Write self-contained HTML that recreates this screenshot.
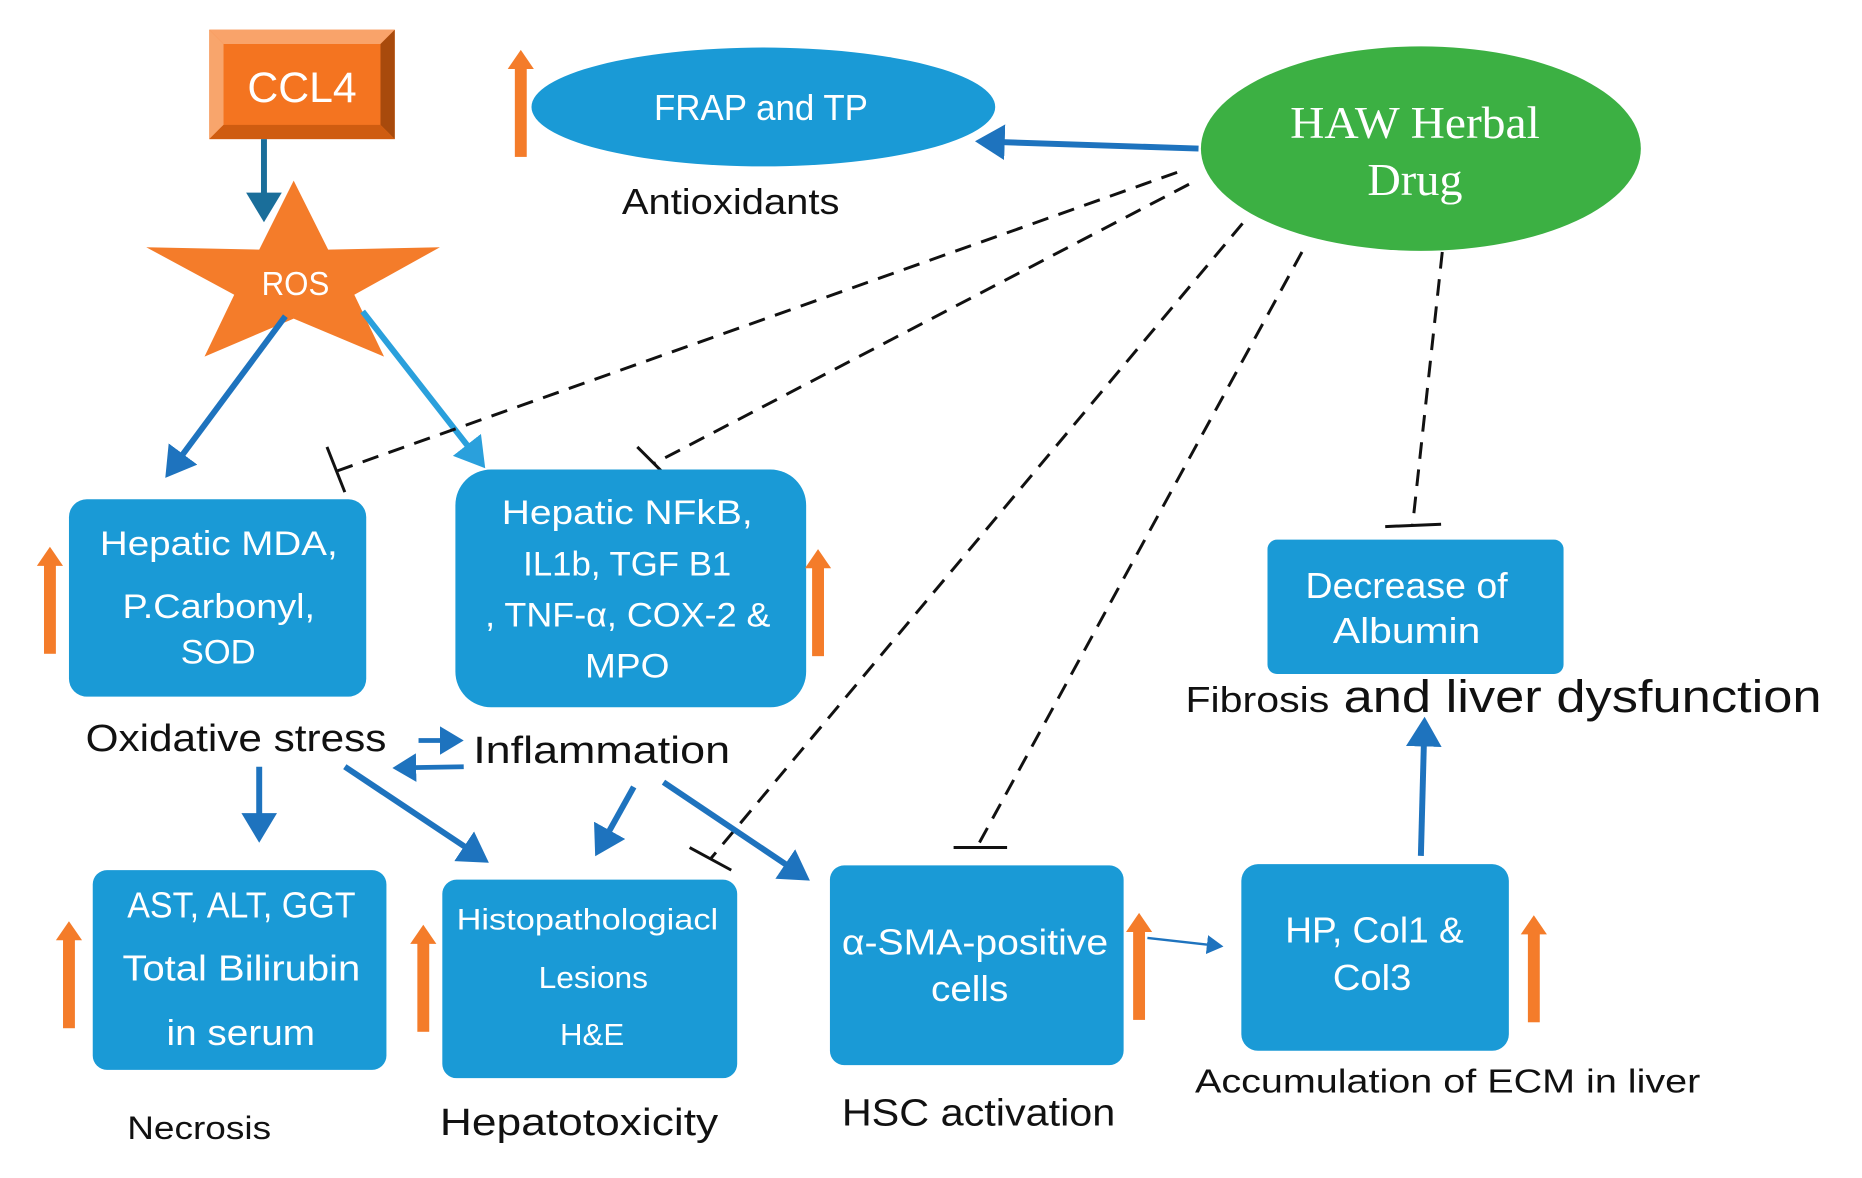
<!DOCTYPE html>
<html><head><meta charset="utf-8"><style>
html,body{margin:0;padding:0;background:#fff;}
svg{display:block;}
text{font-family:"Liberation Sans",sans-serif;}
.w{fill:#fff;}
.k{fill:#111;}
</style></head><body>
<svg width="1862" height="1178" viewBox="0 0 1566 991" preserveAspectRatio="none" xmlns="http://www.w3.org/2000/svg">
<defs>
<marker id="ab" markerWidth="6" markerHeight="6" refX="4" refY="3" orient="auto" markerUnits="strokeWidth"><path d="M0,0 L5,3 L0,6 z" fill="#1e73be"/></marker>
<marker id="al" markerWidth="6" markerHeight="6" refX="4" refY="3" orient="auto" markerUnits="strokeWidth"><path d="M0,0 L5,3 L0,6 z" fill="#2aa0dc"/></marker>
<marker id="at" markerWidth="6" markerHeight="6" refX="4" refY="3" orient="auto" markerUnits="strokeWidth"><path d="M0,0 L5,3 L0,6 z" fill="#1a6e9a"/></marker>
<marker id="an" markerWidth="8" markerHeight="8" refX="6" refY="4" orient="auto" markerUnits="strokeWidth"><path d="M0,0 L7,4 L0,8 z" fill="#1e73be"/></marker>
<g id="up"><rect x="-5" y="14" width="10" height="76" fill="#f47c2a"/><path d="M-11,16 L0,0 L11,16 z" fill="#f47c2a"/></g>
</defs>

<!-- CCL4 -->
<rect x="176" y="25" width="156" height="92" fill="#f47420"/>
<path d="M176,25 L332,25 L320,37 L188,37 z" fill="#f9a36a"/>
<path d="M176,25 L188,37 L188,105 L176,117 z" fill="#f8a56c"/>
<path d="M332,25 L332,117 L320,105 L320,37 z" fill="#a84a0c"/>
<path d="M176,117 L332,117 L320,105 L188,105 z" fill="#cf5c10"/>
<text x="208" y="86" class="w" font-size="36" textLength="92" lengthAdjust="spacingAndGlyphs">CCL4</text>
<line x1="222" y1="117" x2="222" y2="182" stroke="#1a6e9a" stroke-width="5" marker-end="url(#at)"/>

<!-- ROS star -->
<path d="M247,152 L276,210 L370,208 L298,248 L323,300 L247,268 L172,300 L197,248 L123,208 L218,210 z" fill="#f47c2a"/>
<text x="220" y="248" class="w" font-size="28" textLength="57" lengthAdjust="spacingAndGlyphs">ROS</text>

<line x1="240" y1="266" x2="142" y2="398" stroke="#1e73be" stroke-width="5" marker-end="url(#ab)"/>
<line x1="305" y1="262" x2="405" y2="390" stroke="#2aa0dc" stroke-width="5" marker-end="url(#al)"/>

<!-- FRAP -->
<use href="#up" x="438" y="42"/>
<ellipse cx="642" cy="90" rx="195" ry="50" fill="#1a9ad6"/>
<text x="550" y="101" class="w" font-size="30" textLength="180" lengthAdjust="spacingAndGlyphs">FRAP and TP</text>
<text x="523" y="180" class="k" font-size="30" textLength="183" lengthAdjust="spacingAndGlyphs">Antioxidants</text>

<!-- HAW -->
<ellipse cx="1195" cy="125" rx="185" ry="86" fill="#3cb043"/>
<text x="1085" y="116" class="w" font-size="38" style="font-family:'Liberation Serif',serif" textLength="210" lengthAdjust="spacingAndGlyphs">HAW Herbal</text>
<text x="1150" y="164" class="w" font-size="38" style="font-family:'Liberation Serif',serif" textLength="80" lengthAdjust="spacingAndGlyphs">Drug</text>
<line x1="1008" y1="125" x2="825" y2="119" stroke="#1e73be" stroke-width="5" marker-end="url(#ab)"/>

<!-- dashed inhibition -->
<g stroke="#111" stroke-width="2.5" fill="none">
<line x1="990" y1="145" x2="284" y2="396" stroke-dasharray="14,9"/>
<line x1="275" y1="376" x2="290" y2="414"/>
<line x1="1000" y1="155" x2="550" y2="390" stroke-dasharray="14,9"/>
<line x1="536" y1="376" x2="560" y2="400"/>
<line x1="1045" y1="188" x2="598" y2="722" stroke-dasharray="14,9"/>
<line x1="580" y1="713" x2="615" y2="732"/>
<line x1="1095" y1="212" x2="822" y2="712" stroke-dasharray="14,9"/>
<line x1="802" y1="713" x2="847" y2="713"/>
<line x1="1213" y1="212" x2="1188" y2="442" stroke-dasharray="14,9"/>
<line x1="1165" y1="443" x2="1212" y2="441"/>
</g>

<!-- MDA box -->
<use href="#up" x="42" y="460"/>
<rect x="58" y="420" width="250" height="166" rx="15" fill="#1a9ad6"/>
<text x="84" y="467" class="w" font-size="29" textLength="200" lengthAdjust="spacingAndGlyphs">Hepatic MDA,</text>
<text x="103" y="520" class="w" font-size="29" textLength="162" lengthAdjust="spacingAndGlyphs">P.Carbonyl,</text>
<text x="152" y="558" class="w" font-size="29" textLength="63" lengthAdjust="spacingAndGlyphs">SOD</text>

<!-- NFkB box -->
<rect x="383" y="395" width="295" height="200" rx="30" fill="#1a9ad6"/>
<text x="422" y="441" class="w" font-size="29" textLength="211" lengthAdjust="spacingAndGlyphs">Hepatic  NFkB,</text>
<text x="440" y="484" class="w" font-size="29" textLength="175" lengthAdjust="spacingAndGlyphs">IL1b, TGF B1</text>
<text x="408" y="527" class="w" font-size="29" textLength="240" lengthAdjust="spacingAndGlyphs">, TNF-α, COX-2 &amp;</text>
<text x="492" y="570" class="w" font-size="29" textLength="71" lengthAdjust="spacingAndGlyphs">MPO</text>
<use href="#up" x="688" y="462"/>

<text x="72" y="632" class="k" font-size="32" textLength="253" lengthAdjust="spacingAndGlyphs">Oxidative stress</text>
<text x="398" y="642" class="k" font-size="32" textLength="216" lengthAdjust="spacingAndGlyphs">Inflammation</text>
<line x1="352" y1="623" x2="386" y2="623" stroke="#1e73be" stroke-width="4" marker-end="url(#ab)"/>
<line x1="390" y1="645" x2="334" y2="646" stroke="#1e73be" stroke-width="4" marker-end="url(#ab)"/>

<line x1="218" y1="645" x2="218" y2="704" stroke="#1e73be" stroke-width="5" marker-end="url(#ab)"/>
<line x1="290" y1="645" x2="407" y2="723" stroke="#1e73be" stroke-width="5" marker-end="url(#ab)"/>
<line x1="533" y1="662" x2="503" y2="716" stroke="#1e73be" stroke-width="5" marker-end="url(#ab)"/>
<line x1="558" y1="658" x2="677" y2="738" stroke="#1e73be" stroke-width="5" marker-end="url(#ab)"/>

<!-- AST -->
<use href="#up" x="58" y="775"/>
<rect x="78" y="732" width="247" height="168" rx="12" fill="#1a9ad6"/>
<text x="107" y="772" class="w" font-size="30" textLength="192" lengthAdjust="spacingAndGlyphs">AST, ALT, GGT</text>
<text x="103" y="825" class="w" font-size="30" textLength="200" lengthAdjust="spacingAndGlyphs">Total Bilirubin</text>
<text x="140" y="879" class="w" font-size="30" textLength="125" lengthAdjust="spacingAndGlyphs">in serum</text>
<text x="107" y="958" class="k" font-size="27" textLength="121" lengthAdjust="spacingAndGlyphs">Necrosis</text>

<!-- Histo -->
<use href="#up" x="356" y="778"/>
<rect x="372" y="740" width="248" height="167" rx="12" fill="#1a9ad6"/>
<text x="384" y="782" class="w" font-size="25" textLength="220" lengthAdjust="spacingAndGlyphs">Histopathologiacl</text>
<text x="453" y="831" class="w" font-size="26" textLength="92" lengthAdjust="spacingAndGlyphs">Lesions</text>
<text x="471" y="879" class="w" font-size="26" textLength="54" lengthAdjust="spacingAndGlyphs">H&amp;E</text>
<text x="370" y="955" class="k" font-size="32" textLength="234" lengthAdjust="spacingAndGlyphs">Hepatotoxicity</text>

<!-- SMA -->
<rect x="698" y="728" width="247" height="168" rx="12" fill="#1a9ad6"/>
<text x="708" y="803" class="w" font-size="30" textLength="224" lengthAdjust="spacingAndGlyphs">α-SMA-positive</text>
<text x="783" y="842" class="w" font-size="30" textLength="65" lengthAdjust="spacingAndGlyphs">cells</text>
<use href="#up" x="958" y="768"/>
<text x="708" y="947" class="k" font-size="32" textLength="230" lengthAdjust="spacingAndGlyphs">HSC activation</text>
<line x1="965" y1="789" x2="1027" y2="796" stroke="#1e73be" stroke-width="2" marker-end="url(#an)"/>

<!-- HP -->
<rect x="1044" y="727" width="225" height="157" rx="14" fill="#1a9ad6"/>
<text x="1081" y="793" class="w" font-size="30" textLength="150" lengthAdjust="spacingAndGlyphs">HP, Col1 &amp;</text>
<text x="1121" y="833" class="w" font-size="30" textLength="66" lengthAdjust="spacingAndGlyphs">Col3</text>
<use href="#up" x="1290" y="770"/>
<text x="1005" y="919" class="k" font-size="28" textLength="425" lengthAdjust="spacingAndGlyphs">Accumulation of ECM in liver</text>
<line x1="1195" y1="720" x2="1198" y2="608" stroke="#1e73be" stroke-width="5" marker-end="url(#ab)"/>

<!-- Albumin -->
<rect x="1066" y="454" width="249" height="113" rx="8" fill="#1a9ad6"/>
<text x="1098" y="503" class="w" font-size="30" textLength="170" lengthAdjust="spacingAndGlyphs">Decrease of</text>
<text x="1121" y="541" class="w" font-size="30" textLength="124" lengthAdjust="spacingAndGlyphs">Albumin</text>
<text x="997" y="599" class="k" font-size="30" textLength="121" lengthAdjust="spacingAndGlyphs">Fibrosis</text>
<text x="1130" y="599" class="k" font-size="38" textLength="402" lengthAdjust="spacingAndGlyphs">and liver dysfunction</text>
</svg>
</body></html>
